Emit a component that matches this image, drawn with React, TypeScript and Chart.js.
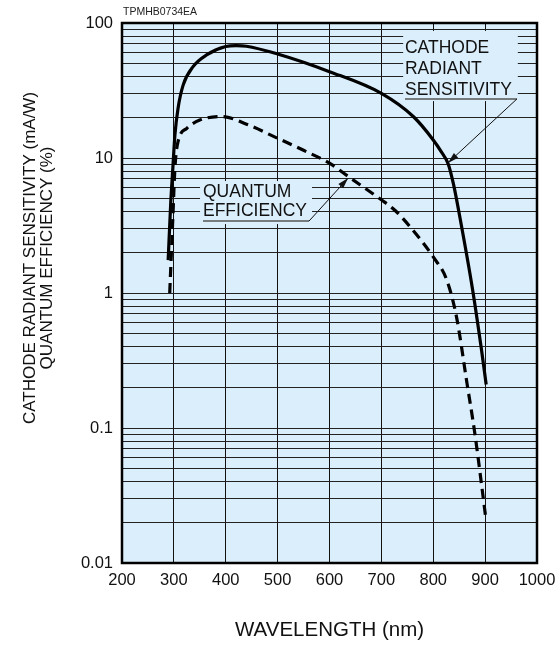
import React, { useEffect, useRef } from "react";
import { Chart, registerables } from "chart.js";

Chart.register(...registerables);

// ---- data ----
const wavelengthTicks = [200, 300, 400, 500, 600, 700, 800, 900, 1000];
const yDecadeLabels = ["0.01", "0.1", "1", "10", "100"];

const cathodeWavelength = [289, 294, 298, 302, 308, 318, 337, 363, 400, 420, 440, 500, 600, 700, 762, 800, 815, 829, 839, 851, 876, 893, 902];
const cathodeSensitivity = [1.75, 4.7, 8.4, 14.8, 23.3, 34.8, 47.5, 58, 66.9, 68, 67.3, 58.9, 43.6, 30.1, 20.2, 13.6, 11.2, 9.0, 6.4, 3.7, 1.05, 0.38, 0.21];

const qeWavelength = [292, 298, 302, 308, 325, 350, 392, 440, 500, 550, 600, 636, 700, 726, 755, 800, 826, 845, 865, 880, 901];
const qeEfficiency = [1.0, 3.6, 8.4, 13.2, 16.6, 19.1, 20.3, 17.8, 14.0, 11.4, 9.15, 7.3, 4.9, 4.1, 3.1, 1.85, 1.25, 0.66, 0.215, 0.092, 0.022];

const FONT = '"Liberation Sans", Arial, Helvetica, sans-serif';
const BG = "#dbeefb";

const yTickValues: number[] = (() => {
  const out: number[] = [];
  [0.01, 0.1, 1, 10].forEach((d) => {
    for (let m = 1; m <= 9; m++) out.push(Number((d * m).toPrecision(3)));
  });
  out.push(100);
  return out;
})();

// annotation anchors (data coordinates)
const cathodeLabel = {
  lines: ["CATHODE", "RADIANT", "SENSITIVITY"],
  box: { x0: 742, x1: 963, y0: 87.3, y1: 26.4 },
  textX: 745.5,
  baselines: [59.9, 41.9, 29.3],
  underline: { x0: 745.5, x1: 961.4, y: 27.4 },
  tip: { x: 828.4, y: 9.2 },
};
const qeLabel = {
  lines: ["QUANTUM", "EFFICIENCY"],
  box: { x0: 350.4, x1: 566.3, y0: 6.75, y1: 3.24 },
  textX: 356.1,
  baselines: [5.14, 3.72],
  underline: { x0: 356.1, x1: 560.5, y: 3.41 },
  tip: { x: 636, y: 7.1 },
};

function drawLabel(ctx: CanvasRenderingContext2D, xs: any, ys: any, lab: typeof cathodeLabel) {
  const X = (v: number) => xs.getPixelForValue(v);
  const Y = (v: number) => ys.getPixelForValue(v);
  ctx.save();
  ctx.fillStyle = BG;
  const bx0 = X(lab.box.x0), bx1 = X(lab.box.x1), by0 = Y(lab.box.y0), by1 = Y(lab.box.y1);
  ctx.fillRect(bx0, by0, bx1 - bx0, by1 - by0);
  ctx.fillStyle = "#111";
  ctx.font = `17.5px ${FONT}`;
  ctx.textAlign = "left";
  ctx.textBaseline = "alphabetic";
  lab.lines.forEach((t, i) => ctx.fillText(t, X(lab.textX), Y(lab.baselines[i])));
  // underline
  ctx.strokeStyle = "#555";
  ctx.lineWidth = 1.5;
  const uy = Y(lab.underline.y);
  ctx.beginPath();
  ctx.moveTo(X(lab.underline.x0), uy);
  ctx.lineTo(X(lab.underline.x1), uy);
  ctx.stroke();
  // arrow
  const sx = X(lab.underline.x1), sy = uy;
  const tx = X(lab.tip.x), ty = Y(lab.tip.y);
  ctx.strokeStyle = "#111";
  ctx.lineWidth = 1;
  ctx.beginPath();
  ctx.moveTo(sx, sy);
  ctx.lineTo(tx, ty);
  ctx.stroke();
  const ang = Math.atan2(ty - sy, tx - sx);
  const L = 11, W = 3.2;
  ctx.fillStyle = "#111";
  ctx.beginPath();
  ctx.moveTo(tx, ty);
  ctx.lineTo(tx - L * Math.cos(ang) + W * Math.sin(ang), ty - L * Math.sin(ang) - W * Math.cos(ang));
  ctx.lineTo(tx - L * Math.cos(ang) - W * Math.sin(ang), ty - L * Math.sin(ang) + W * Math.cos(ang));
  ctx.closePath();
  ctx.fill();
  ctx.restore();
}

const decorPlugin = {
  id: "decor",
  beforeDraw(chart: any) {
    const { ctx, chartArea: a } = chart;
    ctx.save();
    ctx.fillStyle = "#ffffff";
    ctx.fillRect(0, 0, chart.width, chart.height);
    ctx.fillStyle = BG;
    ctx.fillRect(a.left, a.top, a.right - a.left, a.bottom - a.top);
    ctx.restore();
  },
  beforeDatasetsDraw(chart: any) {
    const { ctx } = chart;
    const xs = chart.scales.x, ys = chart.scales.y;
    drawLabel(ctx, xs, ys, cathodeLabel);
    drawLabel(ctx, xs, ys, qeLabel);
  },
  afterDraw(chart: any) {
    const { ctx, chartArea: a } = chart;
    ctx.save();
    ctx.strokeStyle = "#000";
    ctx.lineWidth = 2.5;
    ctx.strokeRect(a.left, a.top, a.right - a.left, a.bottom - a.top);
    // small code
    ctx.fillStyle = "#222";
    ctx.font = `10.5px ${FONT}`;
    ctx.textAlign = "left";
    ctx.textBaseline = "alphabetic";
    ctx.fillText("TPMHB0734EA", a.left + 1, a.top - 8);
    // axis titles
    ctx.fillStyle = "#111";
    ctx.font = `20.5px ${FONT}`;
    ctx.textAlign = "center";
    ctx.textBaseline = "middle";
    ctx.fillText("WAVELENGTH (nm)", (a.left + a.right) / 2, 630);
    ctx.save();
    ctx.translate(30, 258);
    ctx.rotate(-Math.PI / 2);
    ctx.font = `17px ${FONT}`;
    ctx.fillText("CATHODE RADIANT SENSITIVITY (mA/W)", 0, 0);
    ctx.fillText("QUANTUM EFFICIENCY (%)", 0, 17.5);
    ctx.restore();
    ctx.restore();
  },
};

export default function App() {
  const ref = useRef<HTMLCanvasElement | null>(null);
  useEffect(() => {
    if (!ref.current) return;
    const chart = new Chart(ref.current, {
      type: "line",
      data: {
        datasets: [
          {
            label: "Cathode radiant sensitivity",
            data: cathodeWavelength.map((x, i) => ({ x, y: cathodeSensitivity[i] })),
            borderColor: "#000",
            borderWidth: 3.2,
            pointRadius: 0,
            fill: false,
            cubicInterpolationMode: "monotone",
          },
          {
            label: "Quantum efficiency",
            data: qeWavelength.map((x, i) => ({ x, y: qeEfficiency[i] })),
            borderColor: "#000",
            borderWidth: 3.2,
            borderDash: [10, 6],
            pointRadius: 0,
            fill: false,
            cubicInterpolationMode: "monotone",
          },
        ],
      },
      options: {
        animation: false,
        responsive: false,
        devicePixelRatio: 1,
        layout: { padding: { top: 23, right: 21, left: 0, bottom: 0 } },
        plugins: { legend: { display: false }, tooltip: { enabled: false }, title: { display: false } },
        scales: {
          x: {
            type: "linear",
            min: 200,
            max: 1000,
            afterBuildTicks: (s: any) => {
              s.ticks = wavelengthTicks.map((v) => ({ value: v }));
            },
            afterFit: (s: any) => {
              s.height = 82;
              s.paddingLeft = 0;
              s.paddingRight = 0;
            },
            grid: { color: "#111", lineWidth: 1, drawTicks: false },
            border: { display: false },
            ticks: {
              autoSkip: false,
              maxRotation: 0,
              padding: 8,
              color: "#111",
              font: { family: FONT, size: 16.5 },
              callback: (v: any) => String(v),
            },
          },
          y: {
            type: "logarithmic",
            min: 0.01,
            max: 100,
            afterBuildTicks: (s: any) => {
              s.ticks = yTickValues.map((v) => ({ value: v }));
            },
            afterFit: (s: any) => {
              s.width = 122;
              s.paddingTop = 0;
              s.paddingBottom = 0;
            },
            grid: { color: "#222", lineWidth: 1, drawTicks: false },
            border: { display: false },
            ticks: {
              autoSkip: false,
              padding: 9,
              color: "#111",
              font: { family: FONT, size: 16.5 },
              callback: (v: any) => {
                const l = Math.log10(Number(v));
                if (Math.abs(l - Math.round(l)) < 1e-6) return yDecadeLabels[Math.round(l) + 2] ?? "";
                return "";
              },
            },
          },
        },
      },
      plugins: [decorPlugin],
    } as any);
    return () => chart.destroy();
  }, []);
  return (
    <div style={{ position: "fixed", left: 0, top: 0, width: 558, height: 645, background: "#fff" }}>
      <canvas ref={ref} width={558} height={645} style={{ width: 558, height: 645, display: "block" }} />
    </div>
  );
}
